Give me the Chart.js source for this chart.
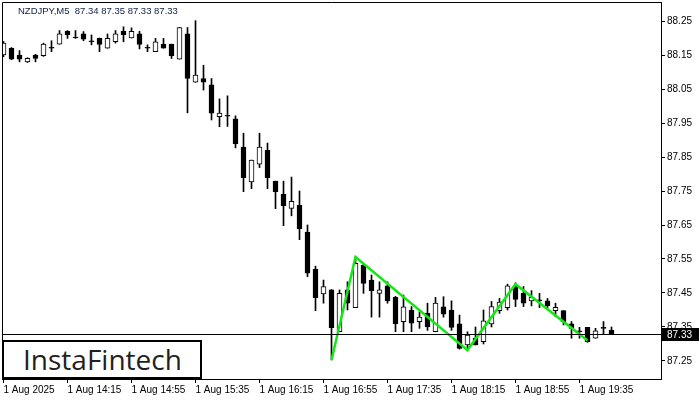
<!DOCTYPE html>
<html>
<head>
<meta charset="utf-8">
<script src="https://cdn.jsdelivr.net/npm/chart.js@4"></script>
<style>
  body { margin: 0; background: #fff; }
  #wrap { position: relative; width: 700px; height: 400px; }
  #logo {
    position: absolute; left: 2px; top: 340px; width: 200px; height: 39px;
    box-sizing: border-box; border: 2px solid #000; background: #fff;
    font-family: "Open Sans", sans-serif; font-size: 28px; font-weight: 500;
    color: #231f20; line-height: 34px; padding-left: 19px; letter-spacing: 0px;
  }
</style>
</head>
<body>
<div id="wrap">
  <canvas id="chart"></canvas>
  <div id="logo">InstaFintech</div>
</div>
<script>
// NZDJPY M5 candles, 1 Aug 13:35 .. 19:55
const opens = [88.15, 88.17, 88.15, 88.13, 88.15, 88.148, 88.17, 88.182, 88.22, 88.2,
  88.212, 88.189, 88.199, 88.17, 88.189, 88.22, 88.2, 88.212, 88.17, 88.16,
  88.182, 88.182, 88.138, 88.212, 88.07, 88.081, 88.062, 87.969, 87.97, 87.962,
  87.879, 87.777, 87.829, 87.87, 87.779, 87.74, 87.699, 87.708, 87.629, 87.52,
  87.447, 87.459, 87.336, 87.459, 87.407, 87.532, 87.488, 87.449, 87.471, 87.437,
  87.366, 87.4, 87.366, 87.39, 87.336, 87.409, 87.4, 87.359, 87.297, 87.317,
  87.307, 87.359, 87.398, 87.407, 87.471, 87.449, 87.427, 87.428, 87.427, 87.398,
  87.398, 87.359, 87.336, 87.349, 87.317, 87.346, 87.34];
const highs = [88.19, 88.172, 88.163, 88.142, 88.152, 88.185, 88.192, 88.222, 88.222, 88.222,
  88.219, 88.209, 88.2, 88.212, 88.222, 88.233, 88.23, 88.22, 88.18, 88.199,
  88.199, 88.182, 88.231, 88.231, 88.251, 88.12, 88.081, 88.021, 88.03, 87.971,
  87.92, 87.841, 87.92, 87.891, 87.779, 87.779, 87.791, 87.75, 87.65, 87.529,
  87.488, 87.46, 87.459, 87.483, 87.557, 87.537, 87.503, 87.483, 87.483, 87.44,
  87.444, 87.41, 87.395, 87.42, 87.437, 87.439, 87.427, 87.385, 87.336, 87.35,
  87.4, 87.425, 87.434, 87.476, 87.48, 87.469, 87.457, 87.449, 87.434, 87.42,
  87.398, 87.366, 87.349, 87.349, 87.346, 87.366, 87.35];
const lows = [88.145, 88.136, 88.13, 88.128, 88.13, 88.146, 88.16, 88.182, 88.199, 88.199,
  88.192, 88.18, 88.16, 88.17, 88.185, 88.189, 88.2, 88.168, 88.16, 88.16,
  88.17, 88.14, 88.138, 87.98, 88.07, 88.047, 87.959, 87.939, 87.94, 87.877,
  87.748, 87.757, 87.819, 87.757, 87.698, 87.648, 87.677, 87.607, 87.498, 87.398,
  87.42, 87.253, 87.336, 87.4, 87.407, 87.449, 87.379, 87.379, 87.42, 87.336,
  87.336, 87.336, 87.346, 87.34, 87.336, 87.379, 87.34, 87.285, 87.282, 87.297,
  87.3, 87.35, 87.39, 87.4, 87.41, 87.41, 87.412, 87.407, 87.405, 87.38,
  87.356, 87.317, 87.317, 87.305, 87.317, 87.329, 87.33];
const closes = [88.185, 88.138, 88.138, 88.14, 88.14, 88.182, 88.17, 88.212, 88.21, 88.2,
  88.197, 88.189, 88.181, 88.199, 88.212, 88.21, 88.22, 88.181, 88.17, 88.189,
  88.17, 88.148, 88.231, 88.081, 88.091, 88.07, 87.979, 87.979, 87.97, 87.889,
  87.789, 87.841, 87.879, 87.789, 87.748, 87.707, 87.72, 87.639, 87.508, 87.436,
  87.469, 87.348, 87.449, 87.42, 87.537, 87.478, 87.457, 87.459, 87.427, 87.359,
  87.409, 87.361, 87.379, 87.35, 87.42, 87.388, 87.349, 87.287, 87.326, 87.297,
  87.368, 87.41, 87.423, 87.471, 87.431, 87.42, 87.437, 87.427, 87.412, 87.408,
  87.366, 87.346, 87.336, 87.307, 87.339, 87.346, 87.33];

// pattern line (bar index, price)
const patternX = [41, 44, 58, 64, 73];
const patternY = [87.253, 87.556, 87.282, 87.476, 87.31];

const xTickIdx = [0, 8, 16, 24, 32, 40, 48, 56, 64, 72];
const xTickLabels = ['1 Aug 2025', '1 Aug 14:15', '1 Aug 14:55', '1 Aug 15:35', '1 Aug 16:15',
  '1 Aug 16:55', '1 Aug 17:35', '1 Aug 18:15', '1 Aug 18:55', '1 Aug 19:35'];
const yTicks = [87.25, 87.35, 87.45, 87.55, 87.65, 87.75, 87.85, 87.95, 88.05, 88.15, 88.25];

const symbol = 'NZDJPY,M5';
const lastPrice = closes[closes.length - 1];

const bodies = opens.map((o, i) => ({ x: i, y: [o, closes[i]] }));
const wicks = lows.map((l, i) => ({ x: i, y: [l, highs[i]] }));
const pattern = patternX.map((x, i) => ({ x: x, y: patternY[i] }));

const font = { family: 'Liberation Sans, Arial, sans-serif', size: 10 };

// frame, price line, price box, title
const extras = {
  id: 'extras',
  afterDatasetsDraw(chart) {
    const { ctx, chartArea: a, scales } = chart;
    ctx.save();
    ctx.strokeStyle = '#000';
    ctx.lineWidth = 1;
    ctx.beginPath();
    ctx.moveTo(a.left + 0.5, a.bottom);
    ctx.lineTo(a.left + 0.5, a.top + 0.5);
    ctx.lineTo(a.right, a.top + 0.5);
    ctx.stroke();
    const py = Math.round(scales.y.getPixelForValue(lastPrice)) + 0.5;
    ctx.beginPath();
    ctx.moveTo(a.left, py);
    ctx.lineTo(a.right, py);
    ctx.stroke();
    ctx.restore();
  },
  afterDraw(chart) {
    const { ctx, chartArea: a, scales } = chart;
    ctx.save();
    const py = Math.round(scales.y.getPixelForValue(lastPrice));
    ctx.fillStyle = '#000';
    ctx.fillRect(a.right + 1, py - 6, 37, 13);
    ctx.fillStyle = '#fff';
    ctx.font = '10px Liberation Sans, Arial, sans-serif';
    ctx.textBaseline = 'middle';
    ctx.fillText(lastPrice.toFixed(2), a.right + 6, py + 1);
    ctx.fillStyle = '#0f1c48';
    ctx.font = '9.5px Liberation Sans, Arial, sans-serif';
    ctx.fillText(symbol + '  ' + [opens, highs, lows, closes].map(s => s[s.length - 1].toFixed(2)).join(' '), 18, 11);
    ctx.restore();
  }
};

new Chart(document.getElementById('chart'), {
  type: 'bar',
  data: {
    datasets: [
      {
        type: 'line',
        data: pattern,
        borderColor: 'rgb(20,232,20)',
        borderWidth: 2.5,
        pointRadius: 0,
        tension: 0,
        order: 0
      },
      {
        data: bodies,
        grouped: false,
        barThickness: 5,
        minBarLength: 1,
        borderSkipped: false,
        borderWidth: 1,
        borderColor: '#000',
        backgroundColor: c => {
          const v = c.raw && c.raw.y;
          return v && v[1] > v[0] ? '#fff' : '#000';
        },
        order: 1
      },
      {
        data: wicks,
        grouped: false,
        barThickness: 1,
        borderWidth: 0,
        backgroundColor: '#000',
        order: 2
      }
    ]
  },
  options: {
    responsive: true,
    maintainAspectRatio: false,
    animation: false,
    layout: { padding: { top: 2, left: 2, right: 0, bottom: 0 } },
    plugins: { legend: { display: false }, tooltip: { enabled: false } },
    scales: {
      x: {
        type: 'linear',
        offset: false,
        min: -0.1875,
        max: 82.1875,
        afterBuildTicks: s => { s.ticks = xTickIdx.map(v => ({ value: v })); },
        afterFit: s => { s.height = 21; s.paddingLeft = 0; s.paddingRight = 0; },
        grid: { display: true, drawOnChartArea: false, tickLength: 4, color: '#000', offset: false },
        border: { display: true, color: '#000' },
        ticks: {
          autoSkip: false, maxRotation: 0, align: 'start', padding: 1, color: '#000', font: font,
          callback: v => xTickLabels[xTickIdx.indexOf(v)]
        }
      },
      y: {
        position: 'right',
        min: 87.197,
        max: 88.306,
        afterBuildTicks: s => { s.ticks = yTicks.map(v => ({ value: v })); },
        afterFit: s => { s.width = 39; s.paddingTop = 0; s.paddingBottom = 0; },
        grid: { display: true, drawOnChartArea: false, tickLength: 4, color: '#000' },
        border: { display: true, color: '#000' },
        ticks: { padding: 2, color: '#000', font: font, callback: v => v.toFixed(2) }
      }
    }
  },
  plugins: [extras]
});
</script>
</body>
</html>
